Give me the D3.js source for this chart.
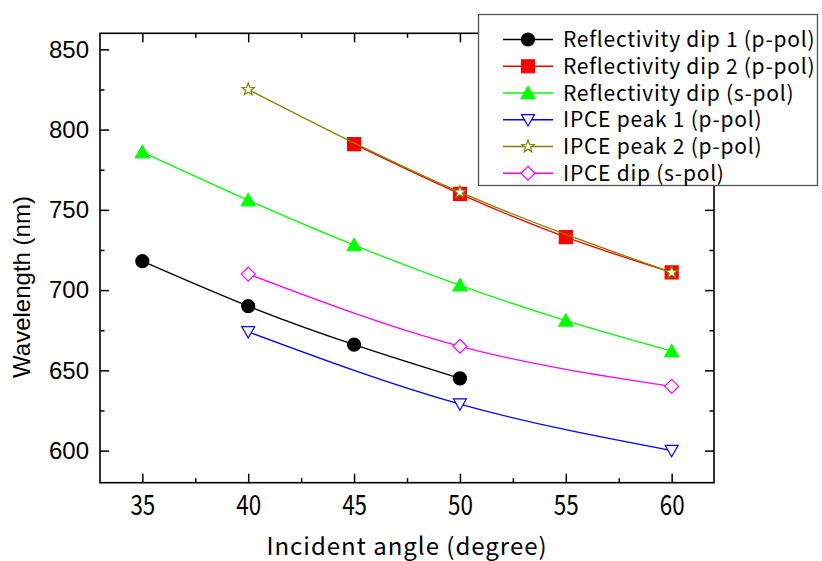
<!DOCTYPE html>
<html>
<head>
<meta charset="utf-8">
<script src="https://cdn.jsdelivr.net/npm/d3@7/dist/d3.min.js"></script>
<style>
  html, body { margin: 0; padding: 0; background: #fff; }
  svg { display: block; }
</style>
</head>
<body>
<svg id="chart" width="822" height="561"></svg>
<script>
// Incident angle (degree) for each series
const refDip1Angles = [35, 40, 45, 50];
const refDip2Angles = [45, 50, 55, 60];
const refDipSAngles = [35, 40, 45, 50, 55, 60];
const ipcePeak1Angles = [40, 50, 60];
const ipcePeak2Angles = [40, 50, 60];
const ipceDipSAngles = [40, 50, 60];

// Wavelength (nm) for each series
const refDip1 = [718, 690, 666, 645];
const refDip2 = [791, 760, 733, 711];
const refDipS = [786, 756, 728, 703, 681, 662];
const ipcePeak1 = [674, 629, 600];
const ipcePeak2 = [825, 761, 711];
const ipceDipS = [710, 665, 640];

const seriesNames = [
  "Reflectivity dip 1 (p-pol)",
  "Reflectivity dip 2 (p-pol)",
  "Reflectivity dip (s-pol)",
  "IPCE peak 1 (p-pol)",
  "IPCE peak 2 (p-pol)",
  "IPCE dip (s-pol)"
];

const xTicks = [35, 40, 45, 50, 55, 60];
const xMinorTicks = [37.5, 42.5, 47.5, 52.5, 57.5];
const yTicks = [600, 650, 700, 750, 800, 850];
const yMinorTicks = [625, 675, 725, 775, 825];

const svg = d3.select("#chart");
const plotLeft = 100, plotRight = 714, plotTop = 33.3, plotBottom = 482.7;

const x = d3.scaleLinear().domain([33, 62]).range([plotLeft, plotRight]);
const y = d3.scaleLinear().domain([580, 860]).range([plotBottom, plotTop]);

// marker shapes, centred on the origin
const shapes = {
  circle: r => `M${r},0A${r},${r} 0 1,1 ${-r},0A${r},${r} 0 1,1 ${r},0Z`,
  square: s => `M${-s},${-s}H${s}V${s}H${-s}Z`,
  triUp: s => `M0,${-s * 0.95}L${s},${s * 0.8}L${-s},${s * 0.8}Z`,
  triDown: s => `M0,${s * 0.95}L${s},${-s * 0.8}L${-s},${-s * 0.8}Z`,
  diamond: s => `M0,${-s}L${s},0L0,${s}L${-s},0Z`,
  star: s => {
    const pts = [];
    for (let i = 0; i < 10; i++) {
      const r = i % 2 === 0 ? s : s * 0.42;
      const a = -Math.PI / 2 + i * Math.PI / 5;
      pts.push([r * Math.cos(a), r * Math.sin(a)]);
    }
    return "M" + pts.map(p => p.join(",")).join("L") + "Z";
  }
};

const series = [
  { name: seriesNames[0], xs: refDip1Angles, ys: refDip1, color: "#000000", shape: "circle", size: 6.5, fill: "#000000" },
  { name: seriesNames[1], xs: refDip2Angles, ys: refDip2, color: "#ff0000", shape: "square", size: 6.5, fill: "#ff0000" },
  { name: seriesNames[2], xs: refDipSAngles, ys: refDipS, color: "#00ff00", shape: "triUp", size: 7, fill: "#00ff00" },
  { name: seriesNames[3], xs: ipcePeak1Angles, ys: ipcePeak1, color: "#0000ff", shape: "triDown", size: 6.5, fill: "#ffffff" },
  { name: seriesNames[4], xs: ipcePeak2Angles, ys: ipcePeak2, color: "#808000", shape: "star", size: 6.5, fill: "#ffffff" },
  { name: seriesNames[5], xs: ipceDipSAngles, ys: ipceDipS, color: "#ff00ff", shape: "diamond", size: 7, fill: "#ffffff" }
];

const gothic = "'Noto Sans CJK JP', 'Noto Sans', sans-serif";
const arial = "'Liberation Sans', Arial, sans-serif";

// axes with inward ticks on all four sides
const tickStyle = g => {
  g.select(".domain").remove();
  g.selectAll(".tick line").attr("stroke", "#000").attr("stroke-width", 1.5);
};

svg.append("g").attr("transform", `translate(0,${plotBottom})`)
  .call(d3.axisBottom(x).tickValues(xTicks).tickSize(-9).tickPadding(12).tickFormat(d3.format("d")))
  .call(tickStyle)
  .call(g => g.selectAll("text")
    .attr("font-family", gothic).attr("font-size", 28).attr("fill", "#000")
    .attr("transform", "scale(0.8,1)"));
svg.append("g").attr("transform", `translate(0,${plotBottom})`)
  .call(d3.axisBottom(x).tickValues(xMinorTicks).tickSize(-4.5).tickFormat(""))
  .call(tickStyle);

svg.append("g").attr("transform", `translate(0,${plotTop})`)
  .call(d3.axisTop(x).tickValues(xTicks).tickSize(-9).tickFormat(""))
  .call(tickStyle);
svg.append("g").attr("transform", `translate(0,${plotTop})`)
  .call(d3.axisTop(x).tickValues(xMinorTicks).tickSize(-4.5).tickFormat(""))
  .call(tickStyle);

svg.append("g").attr("transform", `translate(${plotLeft},0)`)
  .call(d3.axisLeft(y).tickValues(yTicks).tickSize(-9).tickPadding(11).tickFormat(d3.format("d")))
  .call(tickStyle)
  .call(g => g.selectAll("text").attr("font-family", arial).attr("font-size", 24).attr("fill", "#000"));
svg.append("g").attr("transform", `translate(${plotLeft},0)`)
  .call(d3.axisLeft(y).tickValues(yMinorTicks).tickSize(-4.5).tickFormat(""))
  .call(tickStyle);

svg.append("g").attr("transform", `translate(${plotRight},0)`)
  .call(d3.axisRight(y).tickValues(yTicks).tickSize(-9).tickFormat(""))
  .call(tickStyle);
svg.append("g").attr("transform", `translate(${plotRight},0)`)
  .call(d3.axisRight(y).tickValues(yMinorTicks).tickSize(-4.5).tickFormat(""))
  .call(tickStyle);

// plot frame
svg.append("rect")
  .attr("x", plotLeft).attr("y", plotTop)
  .attr("width", plotRight - plotLeft).attr("height", plotBottom - plotTop)
  .attr("fill", "none").attr("stroke", "#000").attr("stroke-width", 1.6);

// series: smooth spline through the points, then markers
const line = d3.line().x(d => x(d[0])).y(d => y(d[1])).curve(d3.curveNatural);
const plot = svg.append("g");
series.forEach(s => {
  const pts = s.xs.map((a, i) => [a, s.ys[i]]);
  plot.append("path")
    .attr("d", line(pts))
    .attr("fill", "none").attr("stroke", s.color).attr("stroke-width", 1.3);
  plot.selectAll(null).data(pts).enter().append("path")
    .attr("transform", d => `translate(${x(d[0])},${y(d[1])})`)
    .attr("d", shapes[s.shape](s.size))
    .attr("fill", s.fill).attr("stroke", s.color).attr("stroke-width", 1.2);
});

// axis titles
svg.append("text")
  .attr("x", (plotLeft + plotRight) / 2).attr("y", 555)
  .attr("text-anchor", "middle")
  .attr("font-family", gothic).attr("font-size", 24).attr("letter-spacing", 1)
  .text("Incident angle (degree)");
svg.append("text")
  .attr("transform", `translate(30,287) rotate(-90)`)
  .attr("text-anchor", "middle")
  .attr("font-family", arial).attr("font-size", 24)
  .text("Wavelength (nm)");

// legend
const lg = svg.append("g");
lg.append("rect")
  .attr("x", 478.5).attr("y", 14.5).attr("width", 339).attr("height", 171)
  .attr("fill", "#fff").attr("stroke", "#555").attr("stroke-width", 1.3);
series.forEach((s, i) => {
  const ry = 39.5 + i * 26.75;
  lg.append("line").attr("x1", 503).attr("x2", 553).attr("y1", ry).attr("y2", ry)
    .attr("stroke", s.color).attr("stroke-width", 1.3);
  lg.append("path").attr("transform", `translate(528,${ry})`)
    .attr("d", shapes[s.shape](s.size))
    .attr("fill", s.fill).attr("stroke", s.color).attr("stroke-width", 1.2);
  lg.append("text").attr("x", 563).attr("y", ry + 7.5)
    .attr("font-family", gothic).attr("font-size", 21).attr("letter-spacing", 0.75)
    .text(s.name);
});
</script>
</body>
</html>
